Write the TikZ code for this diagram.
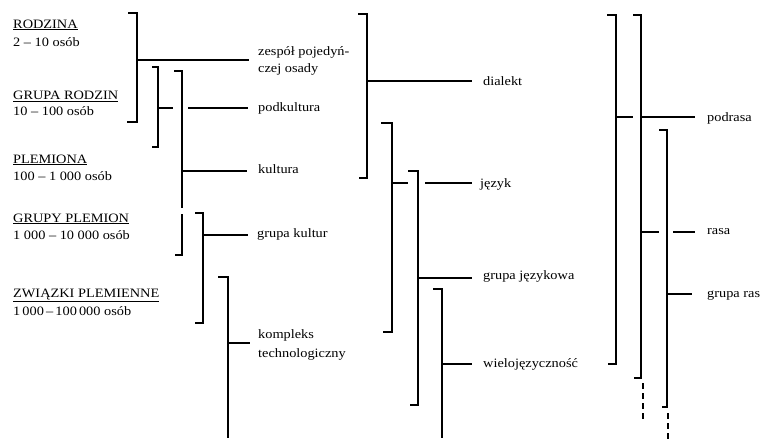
\documentclass[tikz,border=0pt]{standalone}
\usepackage{fontspec}
\setmainfont{Liberation Serif}[FakeStretch=1.12]
\tikzset{
  lbl/.style={anchor=base west, inner sep=0pt, font=\fontsize{12.8}{15}\selectfont},
  brk/.style={line width=2.6pt, line cap=butt, line join=miter},
  tick/.style={line width=1.5pt, line cap=butt},
  dashcont/.style={line width=2.6pt, dash pattern=on 6pt off 4pt},
}
\begin{document}
\begin{tikzpicture}[x=1pt,y=-1pt]
\useasboundingbox[fill=white] (0,0) rectangle (762,442);
% left labels
\node[lbl] (rodz)  at (13,28)   {\underline{RODZINA}};
\node[lbl] (rodzn) at (13,46)   {2 – 10 osób};
\node[lbl] (grr)   at (13,99.5) {\underline{GRUPA RODZIN}};
\node[lbl] (grrn)  at (13,115)  {10 – 100 osób};
\node[lbl] (plem)  at (13,163)  {\underline{PLEMIONA}};
\node[lbl] (plemn) at (13,180)  {100 – 1~000 osób};
\node[lbl] (grp)   at (13,222)  {\underline{GRUPY PLEMION}};
\node[lbl] (grpn)  at (13,239)  {1~000 – 10~000 osób};
\node[lbl] (zw)    at (13,297)  {\underline{ZWIĄZKI PLEMIENNE}};
\node[lbl] (zwn)   at (13,315)  {1\,000\,–\,100\,000 osób};
% right labels
\node[lbl] (zesp)  at (258,55)   {zespół pojedyń-};
\node[lbl] (zesp2) at (258,72.5) {czej osady};
\node[lbl] (podk)  at (258,111)  {podkultura};
\node[lbl] (kult)  at (258,173)  {kultura};
\node[lbl] (grk)   at (257,237)  {grupa kultur};
\node[lbl] (komp)  at (258,338)  {kompleks};
\node[lbl] (tech)  at (258,357)  {technologiczny};
\node[lbl] (dial)  at (483,85)   {dialekt};
\node[lbl] (jez)   at (480,187)  {język};
\node[lbl] (grj)   at (483,279.5){grupa językowa};
\node[lbl] (wiel)  at (483,367)  {wielojęzyczność};
\node[lbl] (podr)  at (707,121)  {podrasa};
\node[lbl] (rasa)  at (707,234)  {rasa};
\node[lbl] (grras) at (707,297)  {grupa ras};
% left brackets
\draw[brk] (128,13) -- (137,13) -- (137,122) -- (127,122);
\draw[tick] (137,60) -- (249,60);
\draw[brk] (152,67) -- (158,67) -- (158,147) -- (152,147);
\draw[tick] (158,108) -- (173,108);
\draw[tick] (188,108) -- (248,108);
\draw[brk] (174,71) -- (182,71) -- (182,208);
\draw[brk] (182,214) -- (182,255) -- (175,255);
\draw[tick] (182,171) -- (247,171);
\draw[brk] (195,213) -- (203,213) -- (203,323) -- (195,323);
\draw[tick] (203,235) -- (248,235);
\draw[brk] (218,277) -- (228,277) -- (228,438);
\draw[tick] (228,343) -- (250,343);
% middle brackets
\draw[brk] (358,14) -- (367,14) -- (367,178) -- (359,178);
\draw[tick] (367,81) -- (472,81);
\draw[brk] (381,123) -- (392,123) -- (392,332) -- (383,332);
\draw[tick] (392,183) -- (408,183);
\draw[tick] (425,183) -- (472,183);
\draw[brk] (408,171) -- (418,171) -- (418,405) -- (410,405);
\draw[tick] (418,278) -- (472,278);
\draw[brk] (433,289) -- (442,289) -- (442,438);
\draw[tick] (442,364) -- (472,364);
% right brackets
\draw[brk] (607,15) -- (616,15) -- (616,364) -- (608,364);
\draw[tick] (616,117) -- (633,117);
\draw[brk] (633,15) -- (641,15) -- (641,378) -- (634,378);
\draw[dashcont] (643,383) -- (643,422);
\draw[tick] (641,117) -- (695,117);
\draw[tick] (641,232) -- (659,232);
\draw[brk] (659,130) -- (667,130) -- (667,407) -- (662,407);
\draw[dashcont] (668,413) -- (668,440);
\draw[tick] (673,232) -- (695,232);
\draw[tick] (667,294) -- (692,294);
\end{tikzpicture}
\end{document}
